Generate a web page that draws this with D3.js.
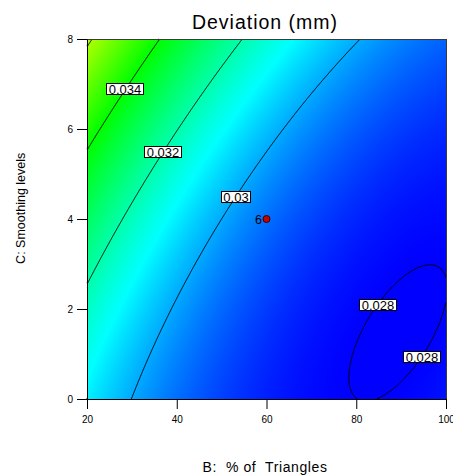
<!DOCTYPE html>
<html>
<head>
<meta charset="utf-8">
<script src="https://cdn.jsdelivr.net/npm/d3@7"></script>
<style>
  html, body { margin: 0; padding: 0; background: #fff; }
  svg text { font-family: Arial, "Liberation Sans", sans-serif; fill: #000; }
</style>
</head>
<body>
<svg id="chart" width="453" height="475"></svg>
<script>
// Factor axes
const bDomain = [20, 100];
const cDomain = [0, 8];
const bTicks = [20, 40, 60, 80, 100];
const cTicks = [0, 2, 4, 6, 8];

// Quadratic response-surface model in actual factors:
// Deviation = b0 + b1*B + b2*C + b3*B*C + b4*B^2 + b5*C^2
const modelTerms = ["Intercept", "B", "C", "B*C", "B^2", "C^2"];
const modelCoefs = [0.03293038, -1.19778e-4, 5.01274e-4, -6.86070e-6, 7.27e-7, 3.79639e-5];

// Contour levels and where their labels sit (B, C)
const contourLevels = [0.028, 0.030, 0.032, 0.034, 0.036];
const labelLevels = [0.034, 0.032, 0.03, 0.028, 0.028];
const labelB = [27.7, 36.1, 52.4, 83.8, 94.2];
const labelC = [6.93, 5.55, 4.55, 2.18, 0.96];

// Design point shown on the plot
const pointB = [60];
const pointC = [4];
const pointRuns = ["6"];

// Colour ramp of the response
const rampValues = [0.028, 0.031, 0.034, 0.037, 0.040];
const rampColors = ["#0000ff", "#00ffff", "#00ff00", "#ffff00", "#ff0000"];

const L = 87, R = 446, T = 39, B0 = 399;
const x = d3.scaleLinear().domain(bDomain).range([L, R]);
const y = d3.scaleLinear().domain(cDomain).range([B0, T]);
const color = d3.scaleLinear().domain(rampValues).range(rampColors)
  .interpolate(d3.interpolateRgb).clamp(true);

function deviation(b, c) {
  const k = modelCoefs;
  return k[0] + k[1] * b + k[2] * c + k[3] * b * c + k[4] * b * b + k[5] * c * c;
}

const svg = d3.select("#chart");

// Sample the surface once per pixel of the plot area
const n = R - L, m = B0 - T;
const values = new Float64Array(n * m);
for (let j = 0; j < m; j++) {
  const c = y.invert(T + j + 0.5);
  for (let i = 0; i < n; i++) {
    values[j * n + i] = deviation(x.invert(L + i + 0.5), c);
  }
}

// Filled colour field
const canvas = document.createElement("canvas");
canvas.width = n; canvas.height = m;
const ctx = canvas.getContext("2d");
const img = ctx.createImageData(n, m);
for (let k = 0; k < n * m; k++) {
  const col = d3.rgb(color(values[k]));
  img.data[4 * k] = col.r;
  img.data[4 * k + 1] = col.g;
  img.data[4 * k + 2] = col.b;
  img.data[4 * k + 3] = 255;
}
ctx.putImageData(img, 0, 0);
svg.append("image")
  .attr("x", L).attr("y", T).attr("width", n).attr("height", m)
  .attr("preserveAspectRatio", "none")
  .attr("href", canvas.toDataURL());

// Contour lines (border edges of the iso-bands are skipped)
const gx = v => x(bDomain[0] + v * (bDomain[1] - bDomain[0]) / n);
const gy = v => y(cDomain[1] - v * (cDomain[1] - cDomain[0]) / m);
const contours = d3.contours().size([n, m]).thresholds(contourLevels)(values);
const linePoints = {};
contours.forEach(ct => {
  let d = "";
  const pts = [];
  ct.coordinates.forEach(poly => poly.forEach(ring => {
    let pen = false;
    for (let k = 0; k < ring.length - 1; k++) {
      const p = ring[k], q = ring[k + 1];
      const onEdge = (p[0] === 0 && q[0] === 0) || (p[0] === n && q[0] === n) ||
                     (p[1] === 0 && q[1] === 0) || (p[1] === m && q[1] === m);
      if (onEdge) { pen = false; continue; }
      if (!pen) { d += "M" + gx(p[0]).toFixed(2) + "," + gy(p[1]).toFixed(2); pen = true; }
      d += "L" + gx(q[0]).toFixed(2) + "," + gy(q[1]).toFixed(2);
      pts.push([gx(q[0]), gy(q[1])]);
    }
  }));
  linePoints[ct.value] = pts;
  svg.append("path").attr("d", d)
    .attr("fill", "none").attr("stroke", "#000").attr("stroke-width", 1);
});

// Frame and axes
svg.append("rect")
  .attr("x", L + 0.5).attr("y", T + 0.5).attr("width", n).attr("height", m)
  .attr("fill", "none").attr("stroke", "#3a3a3a").attr("stroke-width", 1);

const yAxis = svg.append("g").attr("transform", `translate(${L},0)`)
  .call(d3.axisLeft(y).tickValues(cTicks).tickSize(10).tickSizeOuter(0).tickPadding(4));
const xAxis = svg.append("g").attr("transform", `translate(0,${B0})`)
  .call(d3.axisBottom(x).tickValues(bTicks).tickSize(10).tickSizeOuter(0).tickPadding(7));
[xAxis, yAxis].forEach(g => {
  g.selectAll("path, line").attr("stroke", "#000");
  g.selectAll("text").attr("font-size", 10).attr("font-family", "Arial, 'Liberation Sans', sans-serif").attr("fill", "#000");
});

// Contour labels, snapped onto their line
labelLevels.forEach((lv, idx) => {
  const ax = x(labelB[idx]), ay = y(labelC[idx]);
  const key = Object.keys(linePoints).find(k => Math.abs(+k - lv) < 1e-9);
  let px = ax, py = ay;
  if (key) {
    let best = Infinity;
    linePoints[key].forEach(p => {
      const dd = (p[0] - ax) ** 2 + (p[1] - ay) ** 2;
      if (dd < best) { best = dd; px = p[0]; py = p[1]; }
    });
  }
  const g = svg.append("g").attr("transform", `translate(${Math.round(px)},${Math.round(py)})`);
  const t = g.append("text").attr("text-anchor", "middle").attr("dy", "0.37em")
    .attr("font-size", 13).text(String(lv));
  const w = Math.round(t.node().getComputedTextLength() + 4);
  g.insert("rect", "text")
    .attr("x", -Math.round(w / 2) + 0.5).attr("y", -5.5)
    .attr("width", w).attr("height", 11)
    .attr("fill", "#fff").attr("stroke", "#000").attr("stroke-width", 1);
});

// Design point
pointB.forEach((b, i) => {
  svg.append("circle").attr("cx", x(b)).attr("cy", y(pointC[i])).attr("r", 3.5)
    .attr("fill", "#c80000").attr("stroke", "#3a0000").attr("stroke-width", 1);
  svg.append("text").attr("x", x(b) - 4.5).attr("y", y(pointC[i]) + 4.5)
    .attr("text-anchor", "end").attr("font-size", 12.5).attr("fill", "#111").text(pointRuns[i]);
});

// Titles
svg.append("text").attr("x", 265).attr("y", 28.5).attr("text-anchor", "middle")
  .attr("font-size", 19.5).attr("letter-spacing", "1px").text("Deviation (mm)");
svg.append("text").attr("x", 265).attr("y", 471.5).attr("text-anchor", "middle")
  .attr("font-size", 14).attr("letter-spacing", "0.6px").style("white-space", "pre")
  .text("B:  % of  Triangles");
svg.append("text").attr("transform", "translate(24.5,208.3) rotate(-90)")
  .attr("text-anchor", "middle").attr("font-size", 12.5).text("C: Smoothing levels");
</script>
</body>
</html>
